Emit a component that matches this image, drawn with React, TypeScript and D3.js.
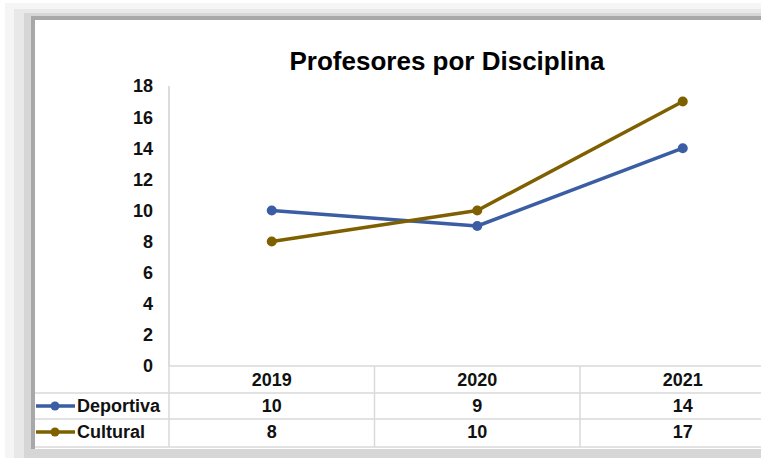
import * as d3 from "d3";

const years = ["2019", "2020", "2021"];
const deportiva = [10, 9, 14];
const cultural = [8, 10, 17];
const yTicks = [0, 2, 4, 6, 8, 10, 12, 14, 16, 18];

const series = [
  { name: "Deportiva", values: deportiva, color: "#3A5DA3" },
  { name: "Cultural", values: cultural, color: "#7F6000" },
];

const W = 761, H = 458;
const font = "'Liberation Sans', Arial, sans-serif";

export default function App() {
  const x = d3.scaleBand().domain(years).range([169, 169 + 3 * 205.5]);
  const y = d3.scaleLinear().domain([0, 18]).range([366, 86]);
  const cx = (d: string) => (x(d) as number) + x.bandwidth() / 2;

  const line = d3.line<number>()
    .x((_, i) => cx(years[i]))
    .y(d => y(d));

  const rowY = [393, 419, 447];
  const rowMid = [380, 406, 432];

  return (
    <svg width={W} height={H} style={{ position: "absolute", left: 0, top: 0 }}>
      {/* frame shadow */}
      <rect x={0} y={0} width={W} height={H} fill="#ffffff" />
      <rect x={5} y={3} width={W} height={H} fill="#f5f5f5" />
      <rect x={14} y={9} width={W} height={H} fill="#e8e8e8" />
      <rect x={24} y={13} width={W} height={H} fill="#d6d6d6" />
      <rect x={31} y={16} width={W} height={433} fill="#a8a8a8" />
      <rect x={35} y={20} width={W} height={429} fill="#ffffff" />

      <text x={447} y={70} textAnchor="middle" fontFamily={font} fontWeight="bold" fontSize={26} fill="#000">
        Profesores por Disciplina
      </text>

      {/* y axis */}
      <line x1={169} x2={169} y1={y(18)} y2={y(0)} stroke="#d0d0d0" strokeWidth={1.5} />
      {yTicks.map(t => (
        <text key={t} x={153} y={y(t)} dy="0.36em" textAnchor="end" fontFamily={font} fontWeight="bold" fontSize={18} fill="#111">
          {t}
        </text>
      ))}

      {/* data table grid */}
      <line x1={169} x2={W} y1={366} y2={366} stroke="#d9d9d9" strokeWidth={1.5} />
      {rowY.map(r => (
        <line key={r} x1={35} x2={W} y1={r} y2={r} stroke="#d9d9d9" strokeWidth={1.5} />
      ))}
      {years.map(yr => (
        <line key={yr} x1={x(yr) as number} x2={x(yr) as number} y1={366} y2={447} stroke="#d9d9d9" strokeWidth={1.5} />
      ))}
      {years.map(yr => (
        <text key={yr} x={cx(yr)} y={rowMid[0]} dy="0.36em" textAnchor="middle" fontFamily={font} fontWeight="bold" fontSize={18} fill="#111">
          {yr}
        </text>
      ))}
      {series.map((s, si) => (
        <g key={s.name}>
          <line x1={36} x2={75} y1={rowMid[si + 1]} y2={rowMid[si + 1]} stroke={s.color} strokeWidth={3.5} />
          <circle cx={55} cy={rowMid[si + 1]} r={4.5} fill={s.color} />
          <text x={77} y={rowMid[si + 1]} dy="0.36em" fontFamily={font} fontWeight="bold" fontSize={18} fill="#111">
            {s.name}
          </text>
          {s.values.map((v, i) => (
            <text key={i} x={cx(years[i])} y={rowMid[si + 1]} dy="0.36em" textAnchor="middle" fontFamily={font} fontWeight="bold" fontSize={18} fill="#111">
              {v}
            </text>
          ))}
        </g>
      ))}

      {/* lines */}
      {series.map(s => (
        <g key={s.name}>
          <path d={line(s.values) || ""} fill="none" stroke={s.color} strokeWidth={3.5} strokeLinejoin="round" />
          {s.values.map((v, i) => (
            <circle key={i} cx={cx(years[i])} cy={y(v)} r={5} fill={s.color} />
          ))}
        </g>
      ))}
    </svg>
  );
}
